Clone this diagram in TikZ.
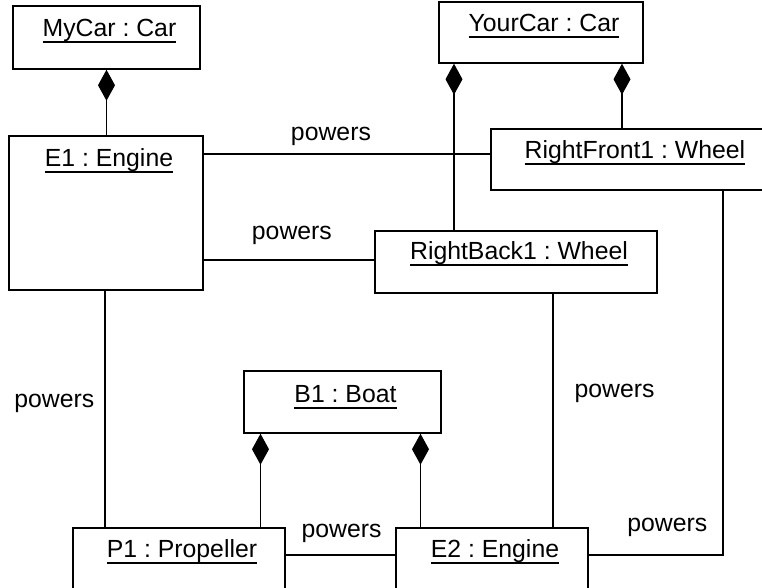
\documentclass[tikz,border=0pt]{standalone}
\usepackage{fontspec}
\setmainfont{Liberation Sans}
\usetikzlibrary{arrows.meta,calc,positioning}
\newcommand{\objtext}[1]{\setbox0=\hbox{#1}\rlap{\rule[-3.2pt]{\wd0}{0.8pt}}\box0}
\frenchspacing

\begin{document}
\begin{tikzpicture}[x=0.5pt,y=-0.5pt,
  obj/.style={draw,line width=0.75pt,inner sep=0pt},
  objlabel/.style={anchor=base,inner sep=0pt,xshift=1.5pt,font=\fontsize{12.4}{14}\selectfont},
  link/.style={line width=0.65pt},
  comp/.style={line width=0.65pt,{Diamond[length=15.5pt,width=8.5pt]}-},
  role/.style={inner sep=0pt,text depth=0pt,font=\fontsize{12.4}{14}\selectfont}]
  \useasboundingbox (0,0) rectangle (762,588);
  \clip (0,0) rectangle (762,588);
  % objects
  \node[obj,minimum width=93.5pt,minimum height=31.5pt] (mycar) at (106.5,37.5) {};
  \node[obj,minimum width=102pt,minimum height=30.5pt] (yourcar) at (541,32.5) {};
  \node[obj,minimum width=97pt,minimum height=77pt] (e1) at (106,213) {};
  \node[obj,minimum width=141pt,minimum height=30.5pt] (rf1) at (632,159.5) {};
  \node[obj,minimum width=141pt,minimum height=31pt] (rb1) at (516,262) {};
  \node[obj,minimum width=98.5pt,minimum height=31pt] (b1) at (342.5,402) {};
  \node[obj,minimum width=106pt,minimum height=31pt] (p1) at (179,559) {};
  \node[obj,minimum width=96pt,minimum height=31pt] (e2) at (492,559) {};
  \node[objlabel] (mycart) at ([yshift=-15.5pt]mycar.north) {\objtext{MyCar : Car}};
  \node[objlabel] (yourcart) at ([yshift=-15pt]yourcar.north) {\objtext{YourCar : Car}};
  \node[objlabel] (e1t) at ([yshift=-15.5pt]e1.north) {\objtext{E1 : Engine}};
  \node[objlabel] (rf1t) at ([yshift=-15pt]rf1.north) {\objtext{RightFront1 : Wheel}};
  \node[objlabel] (rb1t) at ([yshift=-14.5pt]rb1.north) {\objtext{RightBack1 : Wheel}};
  \node[objlabel] (b1t) at ([yshift=-16pt]b1.north) {\objtext{B1 : Boat}};
  \node[objlabel] (p1t) at ([yshift=-15pt]p1.north) {\objtext{P1 : Propeller}};
  \node[objlabel] (e2t) at ([yshift=-15pt]e2.north) {\objtext{E2 : Engine}};
  % composition
  \draw[comp] (mycar.south) -- (mycar.south |- e1.north);
  \draw[comp] ([xshift=-43.5pt]yourcar.south) -- ([xshift=-43.5pt]yourcar.south |- rb1.north);
  \draw[comp] ([xshift=40.5pt]yourcar.south) -- ([xshift=40.5pt]yourcar.south |- rf1.north);
  \draw[comp] ([xshift=-41pt]b1.south) -- ([xshift=-41pt]b1.south |- p1.north);
  \draw[comp] ([xshift=39pt]b1.south) -- ([xshift=39pt]b1.south |- e2.north);
  % powers links
  \draw[link] ([yshift=29.5pt]e1.east) -- ([yshift=29.5pt]e1.east -| rf1.west)
    node[role,pos=0.444,above=6.5pt] (pw1) {powers};
  \draw[link] ([yshift=-23.5pt]e1.east) -- ([yshift=-23.5pt]e1.east -| rb1.west)
    node[role,pos=0.517,above=9.7pt] (pw2) {powers};
  \draw[link] ([xshift=-0.5pt]e1.south) -- ([xshift=-0.5pt]e1.south |- p1.north)
    node[role,pos=0.465,left=5pt] (pw3) {powers};
  \draw[link] ([yshift=2pt]p1.east) -- ([yshift=2pt]p1.east -| e2.west)
    node[role,pos=0.51,above=8.5pt] (pw4) {powers};
  \draw[link] ([xshift=18.5pt]rb1.south) -- ([xshift=18.5pt]rb1.south |- e2.north)
    node[role,pos=0.417,right=10.5pt] (pw5) {powers};
  \draw[link] ([xshift=45.5pt]rf1.south) |- ([yshift=2pt]e2.east)
    node[role,pos=0.5,above left=11.5pt and 7.5pt] (pw6) {powers};
\end{tikzpicture}
\end{document}
